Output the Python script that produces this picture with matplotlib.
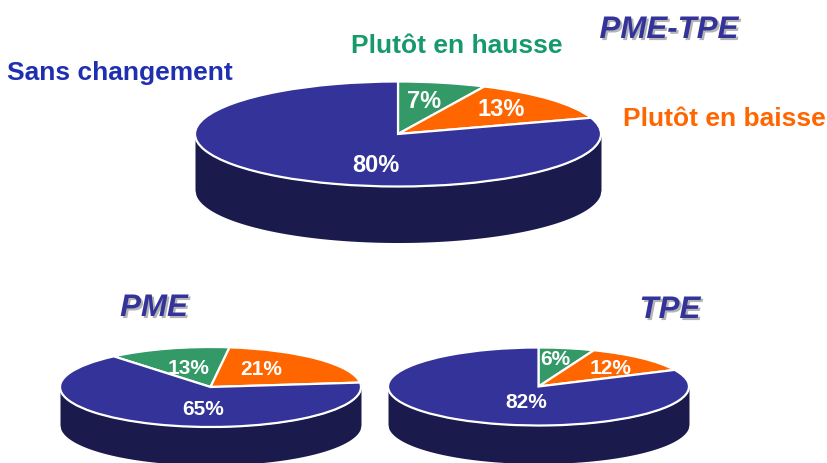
import numpy as np
import matplotlib
matplotlib.use('Agg')
import matplotlib.pyplot as plt
import matplotlib.patheffects as pe

plt.rcParams['font.family'] = ['Liberation Sans', 'DejaVu Sans']

W, H = 827, 464

# Data: green, orange, blue
categories = ['Plutôt en hausse', 'Plutôt en baisse', 'Sans changement']
pme_tpe = [7, 13, 80]
pme = [13, 21, 65]
tpe = [6, 12, 82]

colors = ['#339966', '#FF6600', '#333399']
side_color = '#1A1A4D'

fig = plt.figure(figsize=(W / 100, H / 100), dpi=100, facecolor='white')


def draw_pie(values, start, cx, cy, rx, ry, depth, label_pos, fontsize):
    # axes covers the ellipse plus the side of the disc, in pixels
    ax = fig.add_axes([(cx - rx - 3) / W, 1 - (cy + ry + depth + 3) / H,
                       (2 * rx + 6) / W, (2 * ry + depth + 6) / H])
    wedges, _ = ax.pie(values, colors=colors, startangle=start, counterclock=False,
                       wedgeprops={'edgecolor': 'white', 'linewidth': 1.6, 'zorder': 3})
    ax.set_aspect('auto')
    ax.set_xlim(-1 - 3 / rx, 1 + 3 / rx)
    ax.set_ylim(-1 - (depth + 3) / ry, 1 + 3 / ry)
    x = np.linspace(-1, 1, 400)
    front = -np.sqrt(1 - x ** 2)
    ax.fill_between(x, front - depth / ry, front, color=side_color, lw=0, zorder=1)
    ax.axis('off')
    for val, (px, py) in zip(values, label_pos):
        fig.text(px / W, 1 - py / H, f'{val}%', color='white', fontsize=fontsize,
                 fontweight='bold', ha='center', va='center')


draw_pie(pme_tpe, 90, 398, 135, 203, 52.5, 56,
         [(424, 102), (501, 109), (376, 165)], 17)
draw_pie(pme, 130, 210.5, 388, 150.5, 40, 38,
         [(189, 369), (261, 370), (203, 410)], 15)
draw_pie(tpe, 90, 538.5, 387.5, 150.5, 39, 38,
         [(555, 360), (611, 368), (526, 403)], 15)

# series labels
fig.text(7 / W, 1 - 73 / H, categories[2], color='#1F2FB0', fontsize=19,
         fontweight='bold', ha='left', va='center')
fig.text(351 / W, 1 - 46 / H, categories[0], color='#179A6B', fontsize=19,
         fontweight='bold', ha='left', va='center')
fig.text(623 / W, 1 - 119 / H, categories[1], color='#FF6600', fontsize=19,
         fontweight='bold', ha='left', va='center')

# pie titles with grey shadow
shadow = [pe.withSimplePatchShadow(offset=(1.5, -1.5), shadow_rgbFace='#B4B4B4', alpha=1)]
for txt, px, py in [('PME-TPE', 669, 31), ('PME', 154, 309), ('TPE', 670, 311)]:
    fig.text(px / W, 1 - py / H, txt, color='#333399', fontsize=22.5, fontweight='bold',
             fontstyle='italic', ha='center', va='center', path_effects=shadow)

fig.savefig('out.png', dpi=100, facecolor='white')
